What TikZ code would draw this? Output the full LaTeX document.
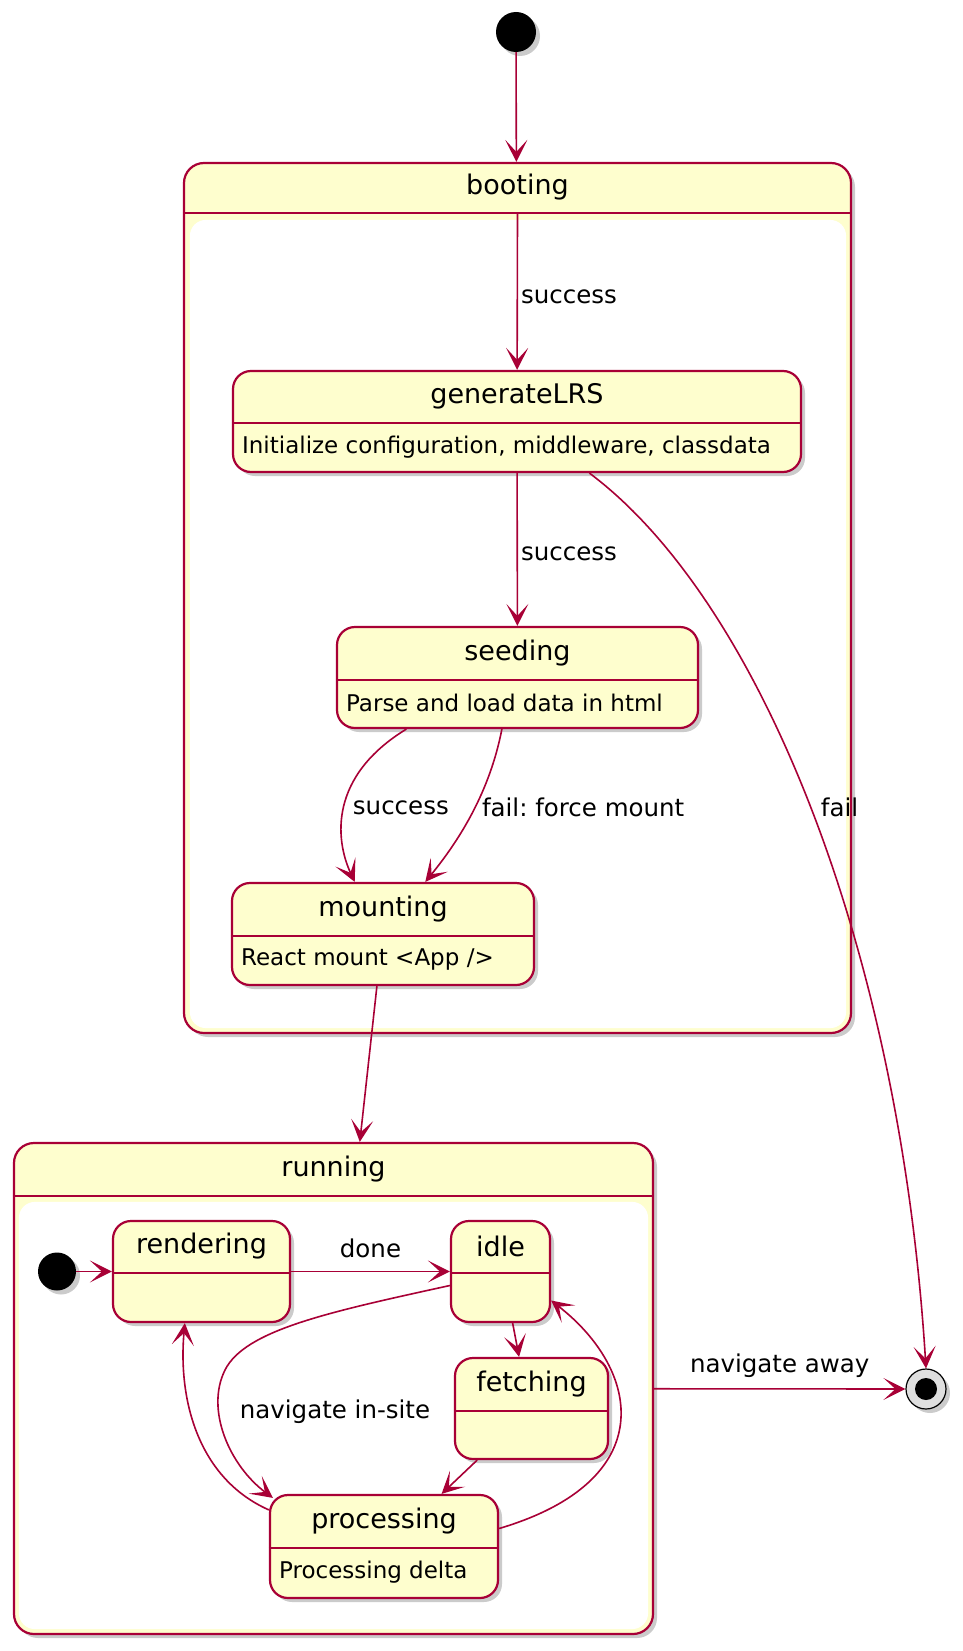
\documentclass[tikz,border=0pt]{standalone}
\usepackage{fontspec}
\setmainfont{DejaVu Sans}
\usetikzlibrary{arrows.meta, calc, shadows}

\definecolor{umlred}{HTML}{A80036}
\definecolor{umlfill}{HTML}{FEFECE}

\frenchspacing

\tikzset{
	umlshadow/.style={drop shadow={shadow xshift=4pt, shadow yshift=-4pt, opacity=.45, fill=black!45}},
	comp/.style={draw=umlred, fill=umlfill, line width=2.2pt, rounded corners=20pt, inner sep=0pt, umlshadow},
	state/.style={draw=umlred, fill=umlfill, line width=2.2pt, rounded corners=18pt, inner sep=0pt, umlshadow},
	bar/.style={draw=umlred, line width=2.2pt},
	title/.style={font=\fontsize{27}{32}\selectfont, inner sep=0pt},
	desc/.style={font=\fontsize{23}{27}\selectfont, inner sep=0pt, anchor=west},
	lbl/.style={font=\fontsize{24.5}{28}\selectfont, inner sep=2pt},
	arr/.style={draw=umlred, line width=1.6pt, -{Stealth[length=22pt, width=22pt, inset=12pt]}},
	dot/.style={circle, fill=black, inner sep=0pt, umlshadow},
	final/.style={circle, draw=black, fill=gray!25, line width=1.2pt, inner sep=0pt, minimum size=40pt, umlshadow}
}

\begin{document}
\begin{tikzpicture}[x=1pt, y=-1pt]
	\useasboundingbox (0,0) rectangle (962,1651);

	\node[dot, minimum size=40pt] (init) at (516,32) {};

	% booting
	\node[comp, minimum width=667pt, minimum height=870pt] (booting) at (517.5,598) {};
	\fill[white, rounded corners=16pt] ($(booting.north west)+(7,58)$) rectangle ($(booting.south east)+(-6,-6)$);
	\draw[bar] ($(booting.north west)+(0,51)$) -- ($(booting.north east)+(0,51)$);
	\coordinate (bootbar) at ($(booting.north)+(0,51)$);
	\node[title] at ($(booting.north)+(0,25)$) {booting};

	\node[state, minimum width=568pt, minimum height=101pt] (gen) at (517,421.5) {};
	\draw[bar] ($(gen.north west)+(0,53)$) -- ($(gen.north east)+(0,53)$);
	\node[title] at ($(gen.north)+(0,26.5)$) {generateLRS};
	\node[desc] at ($(gen.north west)+(10,77)$) {Initialize configuration, middleware, classdata};

	\node[state, minimum width=361pt, minimum height=101pt] (seed) at (517.5,677.5) {};
	\draw[bar] ($(seed.north west)+(0,54)$) -- ($(seed.north east)+(0,54)$);
	\node[title] at ($(seed.north)+(0,27)$) {seeding};
	\node[desc] at ($(seed.north west)+(10,77)$) {Parse and load data in html};

	\node[state, minimum width=302pt, minimum height=102pt] (mount) at (383,934) {};
	\draw[bar] ($(mount.north west)+(0,54)$) -- ($(mount.north east)+(0,54)$);
	\node[title] at ($(mount.north)+(0,27)$) {mounting};
	\node[desc] at ($(mount.north west)+(10,78)$) {React mount <App />};

	% running
	\node[comp, minimum width=639pt, minimum height=491pt] (running) at (333.5,1388.5) {};
	\fill[white, rounded corners=16pt] ($(running.north west)+(6,60)$) rectangle ($(running.south east)+(-6,-6)$);
	\draw[bar] ($(running.north west)+(0,54)$) -- ($(running.north east)+(0,54)$);
	\node[title] at ($(running.north)+(0,27)$) {running};

	\node[dot, minimum size=38pt] (initin) at (57,1271.5) {};

	\node[state, minimum width=177pt, minimum height=101pt] (rend) at (201.5,1271.5) {};
	\draw[bar] ($(rend.north west)+(0,53)$) -- ($(rend.north east)+(0,53)$);
	\node[title] at ($(rend.north)+(0,26.5)$) {rendering};

	\node[state, minimum width=99pt, minimum height=101pt] (idle) at (500.5,1271.5) {};
	\draw[bar] ($(idle.north west)+(0,53)$) -- ($(idle.north east)+(0,53)$);
	\node[title] at ($(idle.north)+(0,26.5)$) {idle};

	\node[state, minimum width=153pt, minimum height=101pt] (fetch) at (531.5,1408.5) {};
	\draw[bar] ($(fetch.north west)+(0,54)$) -- ($(fetch.north east)+(0,54)$);
	\node[title] at ($(fetch.north)+(0,27)$) {fetching};

	\node[state, minimum width=228pt, minimum height=103pt] (proc) at (384,1546.5) {};
	\draw[bar] ($(proc.north west)+(0,54)$) -- ($(proc.north east)+(0,54)$);
	\node[title] at ($(proc.north)+(0,27)$) {processing};
	\node[desc] at ($(proc.north west)+(10,78)$) {Processing delta};

	\node[final] (final) at (926,1389) {};
	\fill[black] (final.center) circle (11pt);

	% transitions
	\draw[arr] (init) -- (booting);
	\draw[arr] (bootbar) -- (gen) node[lbl, midway, right=1pt, yshift=-5pt] {success};
	\draw[arr] (gen) -- (seed) node[lbl, midway, right=1pt, yshift=-4pt] {success};
	\draw[arr] ($(seed.south west)!.194!(seed.south east)$) .. controls +(-77,47) and +(-20,-43) .. ($(mount.north west)!.407!(mount.north east)$)
		node[lbl, pos=.5, anchor=west, xshift=6pt, yshift=-1pt] {success};
	\draw[arr] ($(seed.south west)!.457!(seed.south east)$) .. controls +(-12,62) and +(35,-43) .. ($(mount.north west)!.639!(mount.north east)$)
		node[lbl, pos=.5, anchor=west, xshift=7pt, yshift=5pt] {fail: force mount};
	\draw[arr] ($(gen.south west)!.627!(gen.south east)$) .. controls +(171,128) and +(-26,-419) .. (final.north)
		node[lbl, pos=.5, anchor=west, xshift=6pt, yshift=4pt] {fail};
	\draw[arr] ($(mount.south west)!.48!(mount.south east)$) -- ($(running.north west)!.541!(running.north east)$);

	\draw[arr] (initin) -- (rend);
	\draw[arr] (rend) -- (idle) node[lbl, midway, above=11pt] {done};
	\draw[arr] ($(idle.south west)!.62!(idle.south east)$) -- ($(fetch.north west)!.42!(fetch.north east)$);
	\draw[arr] ($(fetch.south west)!.15!(fetch.south east)$) -- ($(proc.north west)!.75!(proc.north east)$);

	\coordinate (insitebend) at (225,1370);
	\draw[arr] ($(idle.west)+(0,14)$) .. controls +(-121,26.5) and +(20,-40) .. (insitebend)
		.. controls +(-20,40) and +(-43,-32) .. ($(proc.north west)+(4,4)$);
	\node[lbl] (insite) at (335,1412) {navigate in-site};

	\draw[arr] ($(proc.north west)+(0,16)$) .. controls +(-70,-31) and +(-7,78) .. ($(rend.south west)!.407!(rend.south east)$);

	\draw[arr] ($(proc.east)+(0,-18)$) .. controls +(162,-48) and +(90,70) .. ($(idle.east)+(0,29)$);

	\draw[arr] (running) -- (final) node[lbl, midway, above=8pt] {navigate away};
\end{tikzpicture}
\end{document}
